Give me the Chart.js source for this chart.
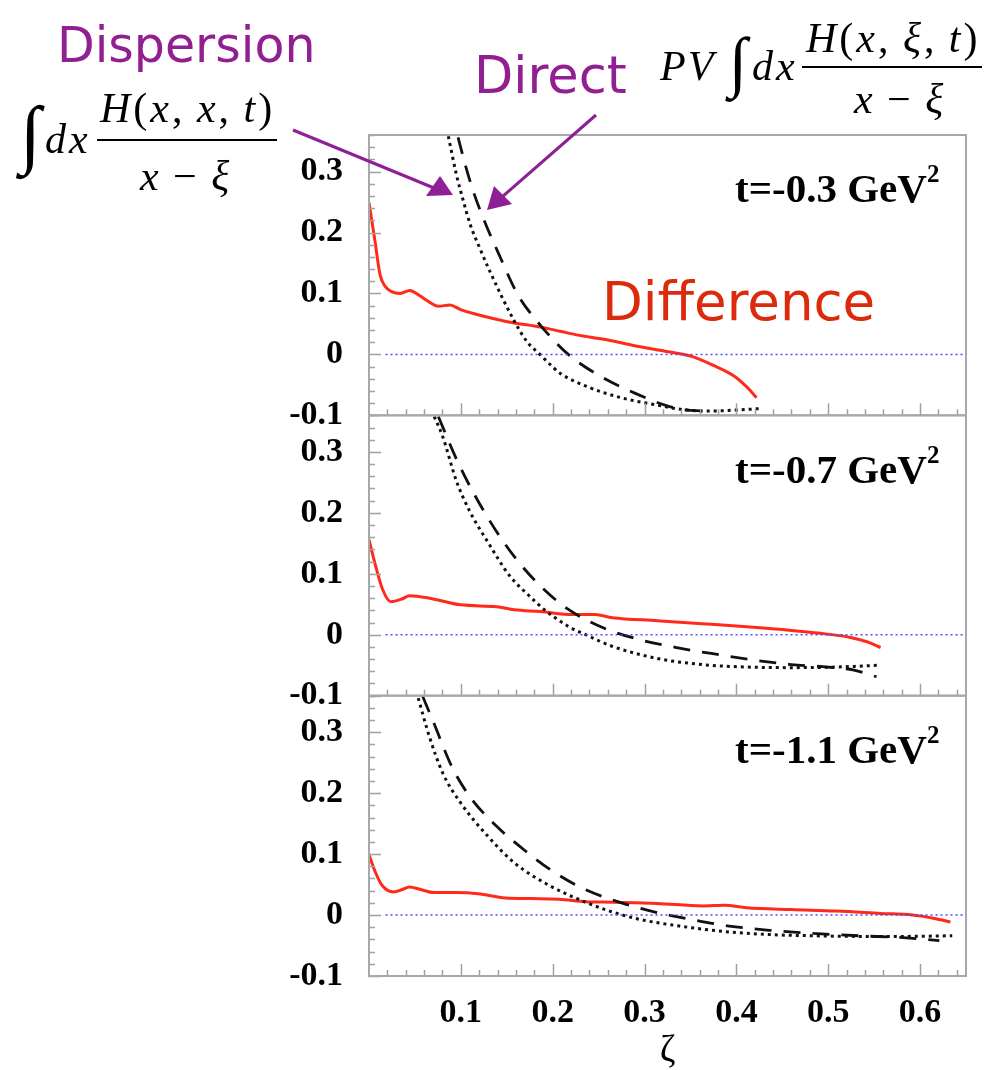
<!DOCTYPE html>
<html>
<head>
<meta charset="utf-8">
<script src="https://cdn.jsdelivr.net/npm/chart.js@4"></script>
<style>
  body { margin: 0; background: #fff; }
  .wrap { position: relative; width: 1008px; height: 1070px; }
  canvas { position: absolute; left: 0; top: 0; }
  .m { position: absolute; font-family: 'Liberation Serif', serif; line-height: 1; white-space: nowrap; color: #000; }
  .hand { position: absolute; font-family: 'DejaVu Sans', sans-serif; line-height: 1; white-space: nowrap; }
  .bar { position: absolute; height: 2px; background: #000; }
  .tlab { position: absolute; font-family: 'Liberation Serif', serif; font-weight: bold; font-size: 41px; line-height: 1; white-space: nowrap; color: #000; }
  .tlab span { font-size: 25px; position: relative; top: -20px; }
  svg { position: absolute; left: 0; top: 0; }
</style>
</head>
<body>
<div class="wrap">
  <canvas id="c" width="1008" height="1070"></canvas>

  <div class="hand" style="left:57px; top:21px; font-size:49px; color:#921f91;">Dispersion</div>
  <div class="hand" style="left:474px; top:50px; font-size:51px; color:#921f91;">Direct</div>
  <div class="hand" style="left:602px; top:275px; font-size:53px; color:#dc2a0c;">Difference</div>

  <div class="m" style="left:20px; top:95px; font-size:76px;">∫</div>
  <div class="m" style="left:45px; top:118px; font-size:42px; letter-spacing:3px;"><i>dx</i></div>
  <div class="m" style="left:100px; top:87px; font-size:42px; letter-spacing:3px;"><i>H</i>(<i>x</i>,&thinsp;<i>x</i>,&thinsp;<i>t</i>)</div>
  <div class="bar" style="left:97px; top:139px; width:180px;"></div>
  <div class="m" style="left:140px; top:155px; font-size:42px; letter-spacing:3px;"><i>x</i>&thinsp;−&thinsp;<i>ξ</i></div>

  <div class="m" style="left:660px; top:45px; font-size:42px; letter-spacing:2px;"><i>PV</i></div>
  <div class="m" style="left:729px; top:28px; font-size:67px;">∫</div>
  <div class="m" style="left:752px; top:45px; font-size:42px; letter-spacing:3px;"><i>dx</i></div>
  <div class="m" style="left:806px; top:17px; font-size:42px; letter-spacing:3px;"><i>H</i>(<i>x</i>,&thinsp;<i>ξ</i>,&thinsp;<i>t</i>)</div>
  <div class="bar" style="left:802px; top:66px; width:180px;"></div>
  <div class="m" style="left:854px; top:78px; font-size:42px; letter-spacing:3px;"><i>x</i>&thinsp;−&thinsp;<i>ξ</i></div>

  <div class="tlab" style="left:735px; top:168px;">t=-0.3 GeV<span>2</span></div>
  <div class="tlab" style="left:735px; top:449px;">t=-0.7 GeV<span>2</span></div>
  <div class="tlab" style="left:735px; top:729px;">t=-1.1 GeV<span>2</span></div>

  <svg width="1008" height="1070">
    <line x1="293" y1="130" x2="434" y2="188" stroke="#8e1f94" stroke-width="3"/>
    <polygon points="453,195 426,196 440,176" fill="#8e1f94"/>
    <line x1="596" y1="115" x2="502" y2="197" stroke="#8e1f94" stroke-width="3"/>
    <polygon points="487,210 494,186 512,204" fill="#8e1f94"/>
  </svg>
</div>

<script>
const xTicks = [0.1, 0.2, 0.3, 0.4, 0.5, 0.6];
const yTicks = [-0.1, 0, 0.1, 0.2, 0.3];
const zeroLine = [[0.018, 0], [0.65, 0]];

// t = -0.3 GeV^2
const dif03 = [[0, 0.249], [0.0065, 0.186], [0.012, 0.131], [0.0174, 0.112], [0.0247, 0.103], [0.0338, 0.100],
  [0.0446, 0.105], [0.0537, 0.098], [0.0646, 0.087], [0.0755, 0.079], [0.0882, 0.081], [0.099, 0.074],
  [0.1136, 0.067], [0.135, 0.059], [0.157, 0.052], [0.186, 0.045], [0.208, 0.038], [0.226, 0.032],
  [0.259, 0.024], [0.295, 0.0125], [0.331, 0.003], [0.353, -0.004], [0.375, -0.018], [0.397, -0.035],
  [0.411, -0.053], [0.422, -0.071]];
const disp03 = [[0.0864, 0.358], [0.095, 0.296], [0.1027, 0.252], [0.110, 0.214], [0.121, 0.173], [0.132, 0.135],
  [0.157, 0.058], [0.172, 0.021], [0.186, 0.0], [0.201, -0.022], [0.208, -0.031],
  [0.241, -0.055], [0.277, -0.072], [0.313, -0.083], [0.339, -0.090], [0.368, -0.093], [0.404, -0.091],
  [0.425, -0.089]];
const dir03 = [[0.097, 0.356], [0.1045, 0.313], [0.113, 0.270], [0.124, 0.225], [0.143, 0.159], [0.162, 0.098],
  [0.186, 0.049], [0.217, 0.0], [0.252, -0.036], [0.290, -0.064], [0.328, -0.086], [0.350, -0.092],
  [0.370, -0.093]];

// t = -0.7 GeV^2
const dif07 = [[0, 0.156], [0.007, 0.114], [0.0146, 0.075], [0.024, 0.054], [0.0365, 0.059], [0.044, 0.064],
  [0.066, 0.060], [0.0998, 0.049], [0.139, 0.046], [0.158, 0.041], [0.187, 0.038], [0.2215, 0.033],
  [0.246, 0.033], [0.265, 0.028], [0.314, 0.023], [0.363, 0.018], [0.411, 0.013], [0.46, 0.007],
  [0.499, 0.001], [0.523, -0.004], [0.543, -0.012], [0.557, -0.021]];
const disp07 = [[0.071, 0.358], [0.0803, 0.325], [0.095, 0.253], [0.1095, 0.203], [0.129, 0.153], [0.153, 0.097],
  [0.175, 0.063], [0.191, 0.041], [0.2167, 0.014], [0.236, 0.0], [0.265, -0.019], [0.314, -0.039],
  [0.363, -0.049], [0.411, -0.053], [0.46, -0.054], [0.509, -0.053], [0.557, -0.050]];
const dir07 = [[0.0755, 0.358], [0.095, 0.289], [0.1144, 0.231], [0.139, 0.169], [0.163, 0.119], [0.19, 0.075],
  [0.2167, 0.042], [0.2556, 0.011], [0.2945, -0.008], [0.338, -0.022], [0.382, -0.033], [0.421, -0.042],
  [0.46, -0.049], [0.499, -0.053], [0.528, -0.058], [0.5526, -0.069]];

// t = -1.1 GeV^2
const dif11 = [[0, 0.099], [0.0073, 0.069], [0.0146, 0.048], [0.0268, 0.038], [0.0365, 0.042], [0.044, 0.046],
  [0.056, 0.042], [0.0706, 0.037], [0.095, 0.037], [0.119, 0.035], [0.1485, 0.028], [0.178, 0.027],
  [0.207, 0.026], [0.236, 0.022], [0.265, 0.021], [0.314, 0.019], [0.363, 0.015], [0.387, 0.016],
  [0.411, 0.012], [0.46, 0.009], [0.509, 0.0066], [0.557, 0.0027], [0.5915, 0], [0.616, -0.0055],
  [0.633, -0.0115]];
const disp11 = [[0.0536, 0.356], [0.0657, 0.293], [0.0803, 0.233], [0.0998, 0.184], [0.129, 0.13], [0.158, 0.086],
  [0.197, 0.048], [0.236, 0.021], [0.265, 0.005], [0.2945, -0.007], [0.338, -0.018], [0.387, -0.027],
  [0.436, -0.032], [0.484, -0.034], [0.533, -0.035], [0.582, -0.035], [0.635, -0.034]];
const dir11 = [[0.0584, 0.359], [0.0706, 0.315], [0.090, 0.244], [0.1095, 0.195], [0.1387, 0.146], [0.168, 0.108],
  [0.197, 0.075], [0.231, 0.045], [0.275, 0.020], [0.314, 0.004], [0.353, -0.008], [0.392, -0.018],
  [0.436, -0.025], [0.484, -0.030], [0.533, -0.034], [0.582, -0.037], [0.621, -0.042]];

const toPoints = arr => arr.map(p => ({x: p[0], y: p[1]}));
const tickFont = {family: 'Liberation Serif', weight: 'bold', size: 34};

function makeSets(axis, dif, disp, dir) {
  let base = {yAxisID: axis, pointRadius: 0, fill: false, cubicInterpolationMode: 'monotone'};
  return [
    Object.assign({}, base, {data: toPoints(zeroLine), borderColor: '#4a4aff', borderWidth: 1.5, borderDash: [2, 3]}),
    Object.assign({}, base, {data: toPoints(disp), borderColor: '#111', borderWidth: 3, borderDash: [3, 4]}),
    Object.assign({}, base, {data: toPoints(dir), borderColor: '#111', borderWidth: 2.8, borderDash: [17, 12]}),
    Object.assign({}, base, {data: toPoints(dif), borderColor: '#ff2a1a', borderWidth: 3}),
  ];
}

function yScale() {
  return {
    type: 'linear', position: 'left', stack: 'panels', stackWeight: 1,
    min: -0.1, max: 0.36,
    grid: {display: false}, border: {display: false},
    afterBuildTicks: s => { s.ticks = yTicks.map(v => ({value: v})); },
    ticks: {font: tickFont, color: '#000', padding: 18, autoSkip: false,
      callback: v => v === 0 ? '0' : v.toFixed(1)},
    afterFit: s => { s.width = 369; s.paddingTop = 0; s.paddingBottom = 0; }
  };
}

// ROOT style frame with inward ticks
const frame = {
  id: 'frame',
  afterDatasetsDraw(chart) {
    let ctx = chart.ctx;
    let area = chart.chartArea;
    let xs = chart.scales.x;
    ctx.save();
    ['y03', 'y07', 'y11'].forEach(id => {
      let s = chart.scales[id];
      ctx.strokeStyle = '#a0a0a0';
      ctx.lineWidth = 1.5;
      ctx.beginPath();
      for (let i = 0; i <= 23; i++) {
        let v = -0.1 + i * 0.02;
        let py = Math.round(s.getPixelForValue(v)) + 0.5;
        let len = i % 5 === 0 ? 12 : 6;
        ctx.moveTo(area.left, py);
        ctx.lineTo(area.left + len, py);
      }
      for (let i = 1; i <= 32; i++) {
        let px = Math.round(xs.getPixelForValue(i * 0.02)) + 0.5;
        let len = i % 5 === 0 ? 12 : 6;
        ctx.moveTo(px, s.bottom);
        ctx.lineTo(px, s.bottom - len);
      }
      ctx.stroke();
      ctx.strokeStyle = '#a8a8a8';
      ctx.lineWidth = 2;
      ctx.strokeRect(area.left, s.top, area.right - area.left, s.bottom - s.top);
    });
    ctx.restore();
  }
};

new Chart(document.getElementById('c'), {
  type: 'line',
  data: {
    datasets: [].concat(
      makeSets('y03', dif03, disp03, dir03),
      makeSets('y07', dif07, disp07, dir07),
      makeSets('y11', dif11, disp11, dir11)
    )
  },
  options: {
    responsive: false,
    devicePixelRatio: 1,
    animation: false,
    layout: {padding: {left: 0, right: 42, top: 135, bottom: 0}},
    plugins: {legend: {display: false}, tooltip: {enabled: false}},
    scales: {
      x: {
        type: 'linear', position: 'bottom', min: 0, max: 0.65,
        grid: {display: false}, border: {display: false},
        afterBuildTicks: s => { s.ticks = xTicks.map(v => ({value: v})); },
        ticks: {font: tickFont, color: '#000', padding: 9, maxRotation: 0, autoSkip: false,
          callback: v => v.toFixed(1)},
        title: {display: true, text: 'ζ', color: '#000', padding: 0, font: {family: 'Liberation Serif', size: 38, lineHeight: 1}},
        afterFit: s => { s.height = 94; s.paddingLeft = 0; s.paddingRight = 0; }
      },
      y11: yScale(),
      y07: yScale(),
      y03: yScale()
    }
  },
  plugins: [frame]
});
</script>
</body>
</html>
